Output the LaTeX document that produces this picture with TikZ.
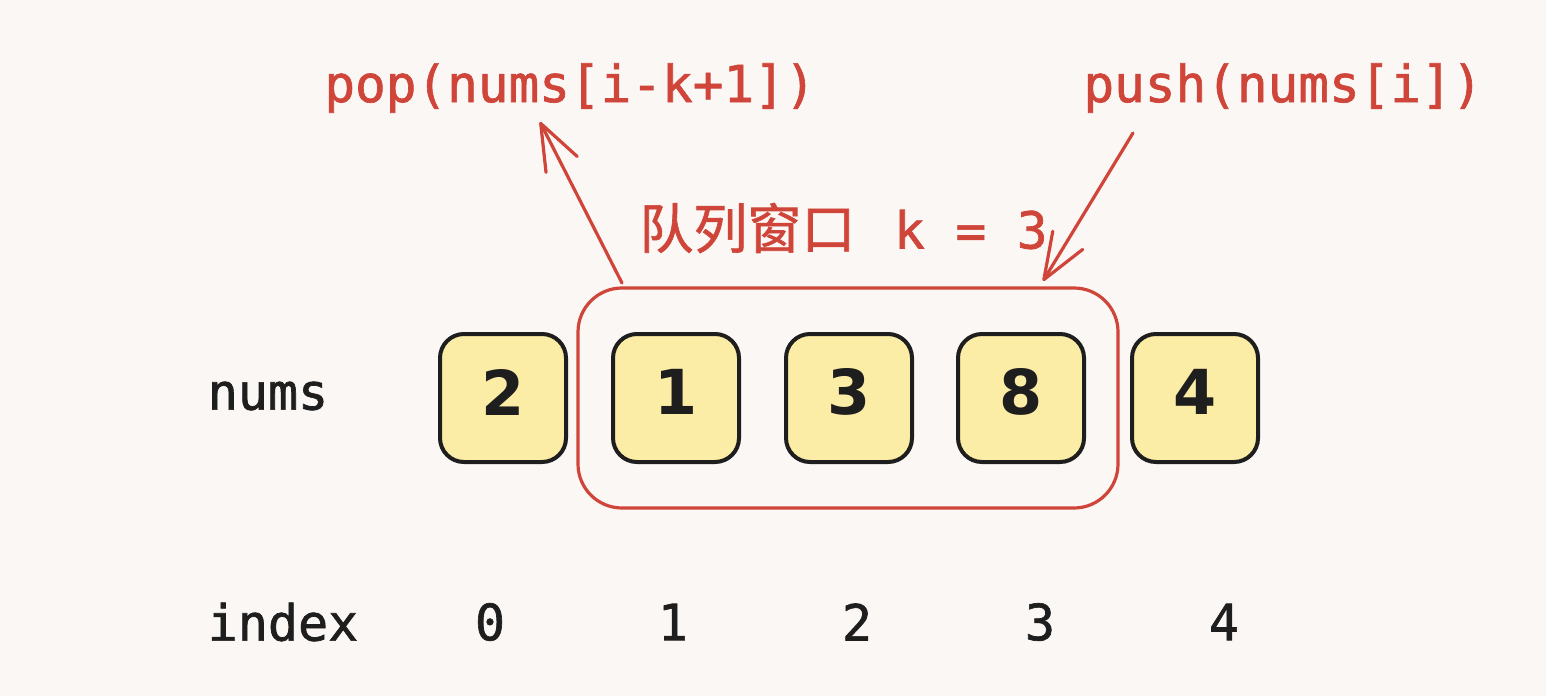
\documentclass[tikz,border=0pt]{standalone}
\usepackage{fontspec}
\usetikzlibrary{arrows.meta}
\newfontface\monof[FakeBold=1.3]{DejaVu Sans Mono}
\newfontface\cjkf[FakeBold=1.2]{Noto Sans CJK SC}
\newfontfamily\digf{DejaVu Sans}
\definecolor{bgc}{HTML}{FBF7F4}
\definecolor{redc}{HTML}{D0453A}
\definecolor{yelc}{HTML}{FCEDA6}
\definecolor{inkc}{HTML}{1E1E1E}
\tikzset{
  cell/.style={draw=inkc, fill=yelc, line width=2pt, rounded corners=12pt,
    minimum width=63pt, minimum height=64pt, inner sep=0pt},
  celltext/.style={inner sep=0pt, font=\digf\bfseries\fontsize{31}{36}\selectfont, text=inkc},
  lbl/.style={font=\monof\fontsize{25}{28}\selectfont, text=inkc, inner sep=0pt},
  rlbl/.style={font=\monof\fontsize{25.5}{28}\selectfont, text=redc, inner sep=0pt},
  win/.style={draw=redc, line width=1.6pt, rounded corners=22pt, inner sep=0pt,
    minimum width=270pt, minimum height=110pt},
  arr/.style={draw=redc, line width=1.6pt, line cap=round,
    -{Straight Barb[length=23pt,width=17.5pt,line width=1.6pt,round]}}
}
\begin{document}
\begin{tikzpicture}[x=0.5pt,y=-0.5pt]
\fill[bgc] (0,0) rectangle (1546,696);
\useasboundingbox (0,0) rectangle (1546,696);
% window
\node[win] (win) at (848,398) {};
% cells
\node[cell] (c0) at (503,398) {};
\node[cell] (c1) at (676,398) {};
\node[cell] (c2) at (849,398) {};
\node[cell] (c3) at (1021,398) {};
\node[cell] (c4) at (1195,398) {};
\node[celltext] (t0) at (503,392) {2};
\node[celltext] (t1) at (676,392) {1};
\node[celltext] (t2) at (849,392) {3};
\node[celltext] (t3) at (1021,392) {8};
\node[celltext] (t4) at (1195,392) {4};
% labels
\node[lbl] (nums) at (268,396) {nums};
\node[lbl] (index) at (283,622) {index};
\node[lbl] (i0) at (490,622) {0};
\node[lbl] (i1) at (673,622) {1};
\node[lbl] (i2) at (857,622) {2};
\node[lbl] (i3) at (1040,622) {3};
\node[lbl] (i4) at (1224,622) {4};
% red texts
\node[rlbl] (pop) at (570,88) {pop(nums[i-k+1])};
\node[rlbl] (push) at (1283,88) {push(nums[i])};
\node[text=redc, inner sep=0pt, anchor=west] (title) at (639,228)
  {\cjkf\fontsize{27}{32}\selectfont 队列窗口\hspace{4pt}\monof\fontsize{25.5}{28}\selectfont{} k = 3};
% arrows
\coordinate (popstart) at (622,283);
\coordinate (popend) at (540,122);
\coordinate (pushstart) at (1133,133);
\coordinate (pushend) at (1043,281);
\draw[arr] (popstart) -- (popend);
\draw[arr] (pushstart) -- (pushend);
\end{tikzpicture}
\end{document}
